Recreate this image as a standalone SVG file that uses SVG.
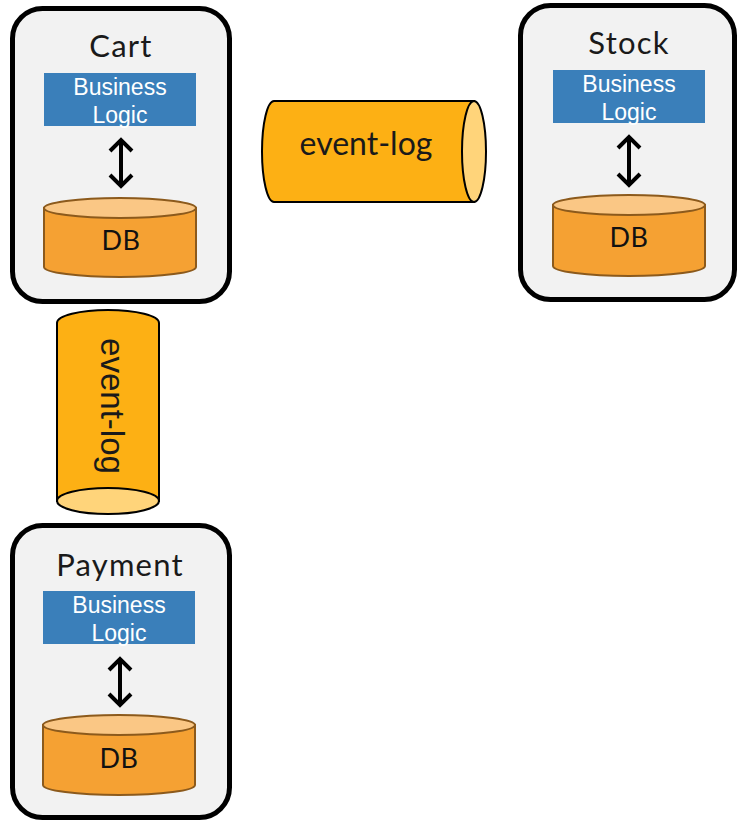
<svg xmlns="http://www.w3.org/2000/svg" width="737" height="822" viewBox="0 0 737 822">
  <defs>
    <style>
      .svc { fill: #F2F2F2; stroke: #000; stroke-width: 5; }
      .title { font-family: Lato, "Open Sans", sans-serif; font-size: 31px; letter-spacing: 1.2px; fill: #1a1a1a; text-anchor: middle; }
      .bl { fill: #3A7FBA; }
      .bltxt { font-family: "Liberation Sans", Arial, sans-serif; font-size: 23px; fill: #fff; text-anchor: middle; }
      .dbbody { fill: #F5A133; stroke: #8C5A1C; stroke-width: 2; }
      .dbtop { fill: #FAC785; stroke: #8C5A1C; stroke-width: 2; }
      .dbtxt { font-family: Lato, "Open Sans", sans-serif; font-size: 27px; letter-spacing: 0.5px; fill: #111; text-anchor: middle; }
      .logbody { fill: #FDB014; stroke: #000; stroke-width: 2; }
      .logend { fill: #FFD47A; stroke: #000; stroke-width: 2; }
      .logtxt { font-family: Lato, "Open Sans", sans-serif; font-size: 32px; fill: #1a1a1a; text-anchor: middle; }
      .logtxtv { font-family: "Liberation Sans", Arial, sans-serif; font-size: 33px; fill: #1a1a1a; text-anchor: middle; }
      .dbl { fill: none; stroke: #000; stroke-width: 4; stroke-linecap: butt; stroke-linejoin: miter; }
    </style>
  </defs>

  <!-- Cart service -->
  <g id="cart">
    <rect class="svc" x="12.5" y="8.5" width="217" height="293" rx="30"/>
    <text class="title" x="121" y="57">Cart</text>
    <rect class="bl" x="44" y="73" width="152" height="53"/>
    <text class="bltxt" x="120" y="95">Business</text>
    <text class="bltxt" x="120" y="123">Logic</text>
    <path class="dbbody" d="M44,208 L44,267 A76,10 0 0 0 196,267 L196,208 Z"/>
    <ellipse class="dbtop" cx="120" cy="208" rx="76" ry="10"/>
    <text class="dbtxt" x="121" y="250">DB</text>
  </g>

  <!-- Stock service -->
  <g id="stock">
    <rect class="svc" x="520.5" y="5.5" width="214" height="294" rx="30"/>
    <text class="title" x="629" y="54">Stock</text>
    <rect class="bl" x="553" y="70" width="152" height="53"/>
    <text class="bltxt" x="629" y="92">Business</text>
    <text class="bltxt" x="629" y="120">Logic</text>
    <path class="dbbody" d="M553,205 L553,266 A76,10 0 0 0 705,266 L705,205 Z"/>
    <ellipse class="dbtop" cx="629" cy="205" rx="76" ry="10"/>
    <text class="dbtxt" x="629" y="247">DB</text>
  </g>

  <!-- Payment service -->
  <g id="payment">
    <rect class="svc" x="12.5" y="525.5" width="217" height="292" rx="30"/>
    <text class="title" x="120" y="576">Payment</text>
    <rect class="bl" x="43" y="591" width="152" height="53"/>
    <text class="bltxt" x="119" y="613">Business</text>
    <text class="bltxt" x="119" y="641">Logic</text>
    <path class="dbbody" d="M43,725 L43,785 A76,10 0 0 0 195,785 L195,725 Z"/>
    <ellipse class="dbtop" cx="119" cy="725" rx="76" ry="10"/>
    <text class="dbtxt" x="119" y="768">DB</text>
  </g>

  <!-- Event log between Cart and Stock (horizontal) -->
  <g id="event-log-h">
    <path class="logbody" d="M474,101 L274,101 A12,50.5 0 0 0 274,202 L474,202 Z"/>
    <ellipse class="logend" cx="474" cy="151.5" rx="12" ry="50.5"/>
    <text class="logtxt" x="366" y="155">event-log</text>
  </g>

  <!-- Event log between Cart and Payment (vertical) -->
  <g id="event-log-v">
    <path class="logbody" d="M57,501 L57,323 A51,13 0 0 1 159,323 L159,501 Z"/>
    <ellipse class="logend" cx="108" cy="501" rx="51" ry="13"/>
    <text class="logtxtv" x="108" y="406" dy="7" transform="rotate(90 108 406)">event-log</text>
  </g>

  <!-- Business logic to DB links -->
  <g id="connectors">
    <path class="dbl" d="M121,140 L121,186 M110,151 L121,140 L132,151 M110,175 L121,186 L132,175"/>
    <path class="dbl" d="M629,137 L629,185 M618,148 L629,137 L640,148 M618,174 L629,185 L640,174"/>
    <path class="dbl" d="M120,659 L120,705 M109,670 L120,659 L131,670 M109,694 L120,705 L131,694"/>
  </g>
</svg>
